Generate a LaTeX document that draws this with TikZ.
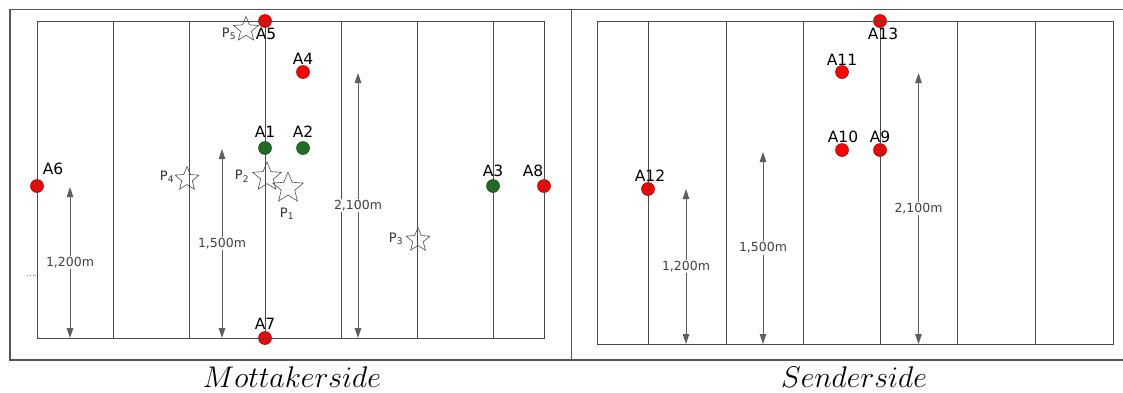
\documentclass[tikz,border=0pt]{standalone}
\usepackage{fontspec}
\newfontfamily\lblfont{DejaVu Sans}
\usetikzlibrary{shapes.geometric,arrows.meta}
\definecolor{gridgray}{HTML}{4A4A4A}
\definecolor{framegray}{HTML}{555555}
\definecolor{dimgray}{HTML}{5E5E5E}
\definecolor{ptred}{HTML}{FF0000}
\definecolor{ptgreen}{HTML}{1E6E1E}
\newcommand{\pSub}[1]{P\textsubscript{#1}}

\begin{document}
\begin{tikzpicture}[x=1pt,y=-1pt,
  frame/.style={draw=framegray, line width=1.4pt},
  field/.style={draw=gridgray, line width=0.9pt},
  redpt/.style={circle, draw=red!55!black, fill=ptred, minimum size=13pt, inner sep=0pt, line width=0.5pt},
  greenpt/.style={circle, draw=ptgreen!60!black, fill=ptgreen, minimum size=13pt, inner sep=0pt, line width=0.5pt},
  albl/.style={inner sep=0pt, font=\lblfont\fontsize{15.5}{15.5}\selectfont},
  plbl/.style={inner sep=0pt, text=black!80, font=\lblfont\fontsize{13}{13}\selectfont},
  pstar/.style={star, star points=5, star point ratio=2.25, draw=black!70, line width=0.6pt, inner sep=0pt},
  dimline/.style={draw=dimgray, line width=0.9pt, {Triangle[length=10pt,width=6.5pt]}-{Triangle[length=10pt,width=6.5pt]}},
  dimlbl/.style={fill=white, inner sep=1.5pt, text=black!75, font=\lblfont\fontsize{12.5}{12.5}\selectfont},
  caption/.style={anchor=base, inner sep=0pt, scale=1.2, transform shape, font=\fontsize{24.88}{30}\selectfont}]
\useasboundingbox (0,0) rectangle (1123,392);

% outer frame and divider
\draw[frame] (1123,9.5) -- (10,9.5) -- (10,360) -- (1123,360);
\draw[frame] (571.5,9.5) -- (571.5,360);
\draw[blue!60, dotted, line width=0.8pt] (27,275) -- (37,275);

% points, Mottakerside
\node[greenpt] (A1) at (265,148) {};
\node[greenpt] (A2) at (303,148) {};
\node[greenpt] (A3) at (493,186) {};
\node[redpt] (A4) at (303,72) {};
\node[redpt] (A5) at (265,21) {};
\node[redpt] (A6) at (37,186) {};
\node[redpt] (A7) at (265,338) {};
\node[redpt] (A8) at (544,186) {};

% points, Senderside
\node[redpt] (A9) at (880,150) {};
\node[redpt] (A10) at (842,150) {};
\node[redpt] (A11) at (842,72) {};
\node[redpt] (A12) at (648,189) {};
\node[redpt] (A13) at (880,21) {};

% fields
\draw[field] (37,21) rectangle (544,338);
\foreach \xl in {113,189,265,341,417,493}
  \draw[field] (\xl,21) -- (\xl,338);
\draw[field] (597,21) rectangle (1113,344);
\foreach \xr in {648,726,803,880,957,1035}
  \draw[field] (\xr,21) -- (\xr,344);

% labels of the points
\node[albl] (A1l) at (265,132) {A1};
\node[albl] (A2l) at (303,132) {A2};
\node[albl] (A3l) at (493,171) {A3};
\node[albl] (A4l) at (303,59) {A4};
\node[albl] (A5l) at (266,34) {A5};
\node[albl] (A6l) at (53,169) {A6};
\node[albl] (A7l) at (265,324) {A7};
\node[albl] (A8l) at (533,171) {A8};
\node[albl] (A9l) at (880,137) {A9};
\node[albl] (A10l) at (843,137) {A10};
\node[albl] (A11l) at (842,60) {A11};
\node[albl] (A12l) at (650,176) {A12};
\node[albl] (A13l) at (883,34) {A13};

% stars
\node[pstar, minimum size=30pt] (P2) at (267,177) {};
\node[pstar, minimum size=32pt] (P1) at (288,188) {};
\node[pstar, minimum size=25pt] (P3) at (418,240) {};
\node[pstar, minimum size=25pt] (P4) at (187,179) {};
\node[pstar, minimum size=26pt] (P5) at (246,29.5) {};
\node[plbl] (P1l) at (287,214) {\pSub{1}};
\node[plbl] (P2l) at (242,176) {\pSub{2}};
\node[plbl] (P3l) at (396,239) {\pSub{3}};
\node[plbl] (P4l) at (167,177) {\pSub{4}};
\node[plbl] (P5l) at (229,34) {\pSub{5}};

% distances
\coordinate (d1bot) at (70,338);
\coordinate (d1top) at (70,187);
\coordinate (d2bot) at (222,338);
\coordinate (d2top) at (222,149);
\coordinate (d3bot) at (358,338);
\coordinate (d3top) at (358,73);
\coordinate (d4bot) at (686,344);
\coordinate (d4top) at (686,189);
\coordinate (d5bot) at (763,344);
\coordinate (d5top) at (763,152);
\coordinate (d6bot) at (918.5,344);
\coordinate (d6top) at (918.5,73);
\draw[dimline] (d1bot) -- (d1top) node[dimlbl, midway] (d1l) {1,200m};
\draw[dimline] (d2bot) -- (d2top) node[dimlbl, midway] (d2l) {1,500m};
\draw[dimline] (d3bot) -- (d3top) node[dimlbl, midway] (d3l) {2,100m};
\draw[dimline] (d4bot) -- (d4top) node[dimlbl, midway] (d4l) {1,200m};
\draw[dimline] (d5bot) -- (d5top) node[dimlbl, midway] (d5l) {1,500m};
\draw[dimline] (d6bot) -- (d6top) node[dimlbl, midway] (d6l) {2,100m};

% captions
\node[caption] (mott) at (292,387) {$Mottakerside$};
\node[caption] (send) at (854,387) {$Senderside$};
\end{tikzpicture}
\end{document}
